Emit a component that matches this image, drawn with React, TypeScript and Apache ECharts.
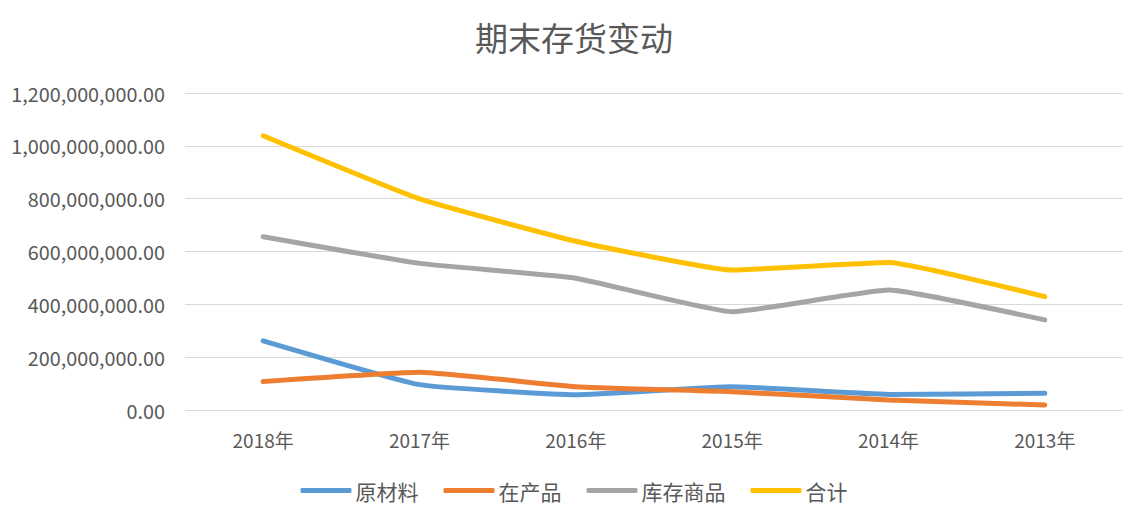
import React, { useEffect, useRef } from "react";
import * as echarts from "echarts";

const years = ["2018年", "2017年", "2016年", "2015年", "2014年", "2013年"];
const rawMaterials = [262e6, 96e6, 58e6, 88e6, 59e6, 63e6];
const workInProgress = [108e6, 143e6, 88e6, 69e6, 38e6, 19e6];
const goodsInStock = [656e6, 555e6, 499e6, 372e6, 454e6, 341e6];
const total = [1038e6, 799e6, 639e6, 530e6, 558e6, 429e6];

const seriesNames = ["原材料", "在产品", "库存商品", "合计"];
const seriesColors = ["#5B9BD5", "#ED7D31", "#A5A5A5", "#FFC000"];
const seriesValues = [rawMaterials, workInProgress, goodsInStock, total];

const fontFamily = "'Noto Sans CJK SC', 'Noto Sans', sans-serif";

const formatValue = (v: number) =>
  v.toLocaleString("en-US", { minimumFractionDigits: 2, maximumFractionDigits: 2 });

export default function App() {
  const ref = useRef<HTMLDivElement>(null);

  useEffect(() => {
    if (!ref.current) return;
    const chart = echarts.init(ref.current, null, { renderer: "svg" });
    chart.setOption({
      animation: false,
      backgroundColor: "#ffffff",
      title: {
        text: "期末存货变动",
        left: "center",
        top: 7,
        textStyle: { fontFamily, fontSize: 33, fontWeight: "normal", color: "#595959" },
      },
      legend: {
        top: 467,
        left: "center",
        icon: "roundRect",
        itemWidth: 51,
        itemHeight: 5,
        itemGap: 25,
        textStyle: { fontFamily, fontSize: 21, color: "#595959", padding: [0, 0, 0, -1] },
        data: seriesNames,
      },
      grid: { left: 177, right: 17, top: 85, bottom: 106 },
      xAxis: {
        type: "category",
        data: years,
        boundaryGap: true,
        axisLine: { show: false },
        axisTick: { show: false },
        axisLabel: { fontFamily, fontSize: 19, lineHeight: 20, color: "#595959", margin: 19 },
      },
      yAxis: {
        type: "value",
        min: 0,
        max: 1200000000,
        interval: 200000000,
        axisLine: { show: false },
        axisTick: { show: false },
        axisLabel: {
          fontFamily,
          fontSize: 19.8,
          color: "#595959",
          margin: 20,
          formatter: formatValue,
        },
        splitLine: { lineStyle: { color: "#D9D9D9", width: 1 } },
      },
      series: seriesNames.map((name, i) => ({
        name,
        type: "line",
        data: seriesValues[i],
        smooth: 0.12,
        symbol: "none",
        lineStyle: { color: seriesColors[i], width: 5, cap: "round" },
        itemStyle: { color: seriesColors[i] },
      })),
    });
    return () => chart.dispose();
  }, []);

  return <div ref={ref} style={{ width: 1132, height: 508 }} />;
}
